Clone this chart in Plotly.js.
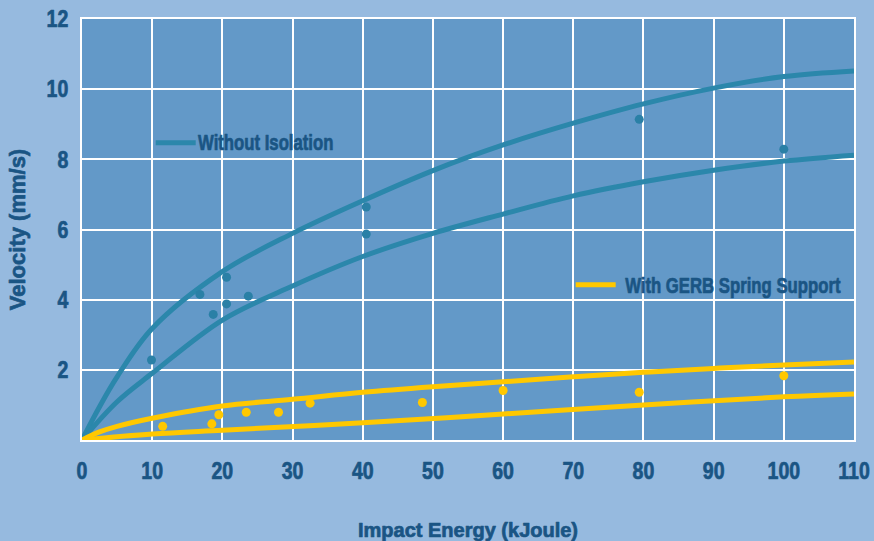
<!DOCTYPE html>
<html>
<head>
<meta charset="utf-8">
<script src="https://cdn.plot.ly/plotly-3.0.1.min.js"></script>
<style>html,body{margin:0;padding:0;background:#96badf;}#chart{width:874px;height:541px;}
#chart .xtick text, #chart .ytick text, #chart text.annotation-text, #chart text.xtitle, #chart text.ytitle {
  stroke:#1a5584; stroke-width:0.7px; stroke-linejoin:round; }</style>
</head>
<body>
<div id="chart"></div>
<script>
// Curves (fitted lines)
const noIsoUpperX = [0, 2.5, 5, 10, 20, 30, 40, 50, 60, 70, 80, 90, 100, 110];
const noIsoUpperY = [0, 0.95, 1.8, 3.18, 4.8, 5.89, 6.82, 7.68, 8.41, 9.03, 9.58, 10.03, 10.36, 10.52];
const noIsoLowerX = [0, 5, 10, 20, 30, 40, 50, 60, 70, 80, 90, 100, 110];
const noIsoLowerY = [0, 1.09, 1.9, 3.42, 4.39, 5.23, 5.89, 6.44, 6.96, 7.36, 7.69, 7.95, 8.12];
const gerbUpperX = [0, 2.5, 5, 10, 20, 30, 40, 50, 60, 70, 80, 90, 100, 110];
const gerbUpperY = [0, 0.23, 0.39, 0.62, 0.97, 1.16, 1.36, 1.52, 1.66, 1.8, 1.93, 2.04, 2.14, 2.22];
const gerbLowerX = [0, 10, 20, 40, 60, 80, 100, 110];
const gerbLowerY = [0, 0.17, 0.28, 0.49, 0.74, 1.0, 1.23, 1.31];
// Measured points
const noIsoPtsX = [9.9, 16.8, 18.7, 20.6, 20.6, 23.7, 40.5, 40.5, 79.4, 100.0];
const noIsoPtsY = [2.28, 4.15, 3.58, 4.64, 3.88, 4.1, 6.64, 5.87, 9.14, 8.29];
const gerbPtsX = [11.5, 18.5, 19.5, 23.4, 28.0, 32.5, 48.5, 60.0, 79.4, 100.0];
const gerbPtsY = [0.39, 0.46, 0.72, 0.79, 0.79, 1.05, 1.07, 1.41, 1.36, 1.83];
const xTicks = [0, 10, 20, 30, 40, 50, 60, 70, 80, 90, 100, 110];
const yTicks = [0, 2, 4, 6, 8, 10, 12];
const seriesNames = ["Without Isolation", "With GERB Spring Support"];

const TEAL = "#2b87ab";
const TEALDOT = "#2a80a6";
const YEL = "#ffc800";
const TXT = "#1a5584";
const FONT = "Liberation Sans, Arial, sans-serif";

const traces = [
  {x: noIsoUpperX, y: noIsoUpperY, mode: "lines", line: {color: TEAL, width: 5, shape: "spline"}, name: "", showlegend: true, legend: "legend"},
  {x: noIsoLowerX, y: noIsoLowerY, mode: "lines", line: {color: TEAL, width: 5, shape: "spline"}, showlegend: false},
  {x: gerbUpperX, y: gerbUpperY, mode: "lines", line: {color: YEL, width: 5, shape: "spline"}, name: "", showlegend: true, legend: "legend2"},
  {x: gerbLowerX, y: gerbLowerY, mode: "lines", line: {color: YEL, width: 5, shape: "spline"}, showlegend: false},
  {x: noIsoPtsX, y: noIsoPtsY, mode: "markers", marker: {color: TEALDOT, size: 9}, showlegend: false},
  {x: gerbPtsX, y: gerbPtsY, mode: "markers", marker: {color: YEL, size: 9}, showlegend: false}
];

const labelFont = {family: FONT, size: 22, color: TXT, weight: "bold"};
const layout = {
  width: 874, height: 541,
  margin: {l: 82, r: 20, t: 19, b: 101, pad: 0, autoexpand: false},
  paper_bgcolor: "#96badf",
  plot_bgcolor: "#6399c8",
  font: {family: FONT, color: TXT, weight: "bold"},
  xaxis: {
    range: [0, 110], tickvals: xTicks, ticktext: xTicks.map(String),
    showgrid: true, gridcolor: "#ffffff", gridwidth: 2,
    showline: true, linecolor: "#ffffff", linewidth: 2, mirror: true,
    zeroline: false, ticks: "", ticklabelstandoff: 9, ticklabeloverflow: "allow", automargin: false,
    tickfont: {family: FONT, size: 23.5, color: TXT, weight: "bold"},
    title: {text: "Impact Energy (kJoule)", font: {family: FONT, size: 20, color: TXT, weight: "bold"}, standoff: 49}
  },
  yaxis: {
    range: [0, 12], tickvals: yTicks, ticktext: yTicks.map(v => v === 0 ? "" : String(v)),
    showgrid: true, gridcolor: "#ffffff", gridwidth: 2,
    showline: true, linecolor: "#ffffff", linewidth: 2, mirror: true,
    zeroline: false, ticks: "", ticklabelstandoff: 7, automargin: false,
    tickfont: {family: FONT, size: 23.5, color: TXT, weight: "bold"},
    title: {text: "Velocity (mm/s)", font: {family: FONT, size: 22, color: TXT, weight: "bold"}, standoff: 10}
  },
  legend: {x: 0.089, y: 0.705, xanchor: "left", yanchor: "middle", bgcolor: "rgba(0,0,0,0)", borderwidth: 0, itemwidth: 40, font: {size: 14}},
  legend2: {x: 0.633, y: 0.368, xanchor: "left", yanchor: "middle", bgcolor: "rgba(0,0,0,0)", borderwidth: 0, itemwidth: 40, font: {size: 14}},
  showlegend: true,
  annotations: [
    {xref: "paper", yref: "paper", x: 0.148, y: 0.7055, xanchor: "left", yanchor: "middle", align: "left", showarrow: false, text: seriesNames[0], font: labelFont},
    {xref: "paper", yref: "paper", x: 0.9855, y: 0.368, xanchor: "right", yanchor: "middle", align: "right", showarrow: false, text: seriesNames[1], font: labelFont}
  ]
};

// Condense text glyphs horizontally (reference uses a condensed bold face),
// keeping each label's anchor point where Plotly put it.
function condense(selector, factor) {
  document.querySelectorAll(selector).forEach(function (t) {
    try {
      if (t.getAttribute("data-cond")) return;
      const b0 = t.getBBox();
      const w = t.getComputedTextLength();
      if (!(w > 0)) return;
      t.setAttribute("textLength", (w * factor).toFixed(2));
      t.setAttribute("lengthAdjust", "spacingAndGlyphs");
      const b1 = t.getBBox();
      const anchor = t.getAttribute("text-anchor") || getComputedStyle(t).textAnchor || "start";
      let dx = 0;
      if (anchor === "end") dx = (b0.x + b0.width) - (b1.x + b1.width);
      else if (anchor === "middle") dx = (b0.x + b0.width / 2) - (b1.x + b1.width / 2);
      else dx = b0.x - b1.x;
      if (Math.abs(dx) > 0.05) {
        const x0 = parseFloat(t.getAttribute("x") || "0");
        t.setAttribute("x", (x0 + dx).toFixed(2));
      }
      t.setAttribute("data-cond", "1");
    } catch (e) {}
  });
}
function condenseAll() {
  condense("#chart .xtick text, #chart .ytick text", 0.83);
  condense("#chart text.annotation-text", 0.76);
}

const gd = document.getElementById("chart");
Plotly.newPlot(gd, traces, layout, {displayModeBar: false, staticPlot: true}).then(function () {
  condenseAll();
  gd.on("plotly_afterplot", condenseAll);
  setTimeout(condenseAll, 50);
});
</script>
</body>
</html>
